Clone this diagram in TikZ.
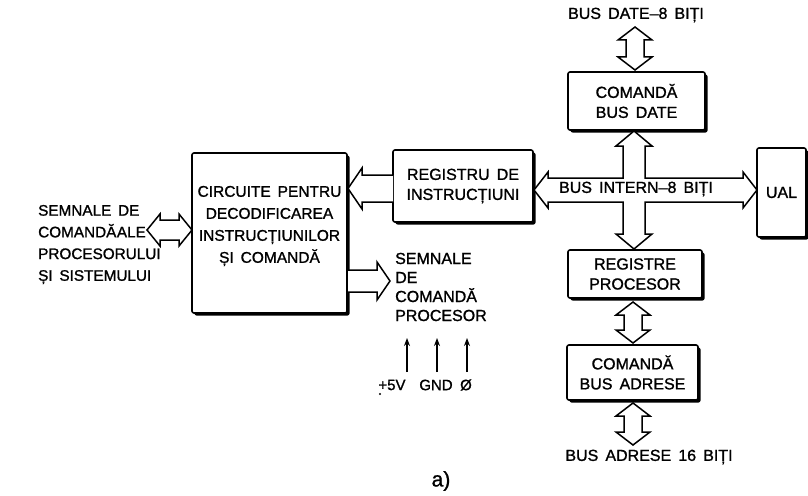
\documentclass[tikz,border=0pt]{standalone}
\usepackage{fontspec}
\setmainfont[WordSpace=1.6,FakeBold=1.2]{Liberation Sans}
\usetikzlibrary{shadows,arrows.meta,calc}
\newcommand\vdbl[3]{\draw[barrow] (#1,#2) -- ({#1+17},{#2+13}) -- ({#1+9},{#2+13}) -- ({#1+9},{#3-13}) -- ({#1+17},{#3-13}) -- (#1,#3) -- ({#1-17},{#3-13}) -- ({#1-9},{#3-13}) -- ({#1-9},{#2+13}) -- ({#1-17},{#2+13}) -- cycle;}
\begin{document}
\begin{tikzpicture}[x=1pt,y=-1pt,
 box/.style={draw,line width=1.6pt,fill=white,rounded corners=2pt,
   drop shadow={shadow xshift=2.5pt,shadow yshift=-2.5pt,opacity=1,fill=black},
   font=\fontsize{16}{20}\selectfont,align=center,inner sep=0pt},
 lbl/.style={font=\fontsize{16}{20}\selectfont,inner sep=0pt},
 barrow/.style={draw,line width=1.5pt,fill=white,line join=miter},
 parrow/.style={line width=1.4pt,-{Stealth[length=8pt,width=6pt]}}]
\useasboundingbox[fill=white] (0,0) rectangle (808,495);

% boxes
\node[box,minimum width=155pt,minimum height=160pt] (cp) at (269.5,233) {};
\node[lbl,align=center,font=\fontsize{15.5}{22}\selectfont] (cpt) at (269.5,226)
  {CIRCUITE PENTRU\\DECODIFICAREA\\INSTRUCȚIUNILOR\\ȘI COMANDĂ};
\node[box,minimum width=140pt,minimum height=72pt] (ri) at (463,186) {REGISTRU DE\\INSTRUCȚIUNI};
\node[box,minimum width=137pt,minimum height=58pt] (cbd) at (636.5,101) {COMANDĂ\\BUS DATE};
\node[box,minimum width=49pt,minimum height=89pt] (ual) at (781.5,192.5) {UAL};
\node[box,minimum width=134pt,minimum height=48pt] (rp) at (635,274) {REGISTRE\\PROCESOR};
\node[box,minimum width=131pt,minimum height=55pt] (cba) at (632.5,372.5) {COMANDĂ\\BUS ADRESE};

% labels
\node[lbl] (bd) at (636,15) {BUS DATE–8 BIȚI};
\node[lbl] (ba) at (649,457) {BUS ADRESE 16 BIȚI};
\node[lbl,align=left,anchor=west,font=\fontsize{15.3}{21.7}\selectfont] (sc) at (38,244.5)
  {SEMNALE DE\\COMANDĂ\hspace{0.5pt}ALE\\PROCESORULUI\\ȘI SISTEMULUI};
\node[lbl,align=left,anchor=west,font=\fontsize{16}{19}\selectfont] (sp) at (395,287)
  {SEMNALE\\DE\\COMANDĂ\\PROCESOR};
\node[lbl,font=\fontsize{15}{18}\selectfont] (p5) at (392,385) {+5V};
\node[lbl,font=\fontsize{15}{18}\selectfont] (gnd) at (436,385) {GND};
\node[lbl,font=\fontsize{15}{18}\selectfont] (phi) at (466,385) {Ø};
\fill (380,394) circle (1.2);
\node[font=\fontsize{21}{22}\selectfont] (cap) at (441,481) {a)};

% internal bus (cross)
\draw[barrow] (634,131) -- (652,146) -- (645,146) -- (645,178) -- (743,178) -- (743,172)
  -- (757,190) -- (743,208) -- (743,202) -- (645,202) -- (645,234) -- (652,234) -- (634,249)
  -- (616,234) -- (623,234) -- (623,202) -- (548,202) -- (548,208) -- (534,190) -- (548,172)
  -- (548,178) -- (623,178) -- (623,146) -- (616,146) -- cycle;
\node[lbl] (bi) at (636,189) {BUS INTERN–8 BIȚI};

% registru -> circuite
\draw[barrow] (393,175) -- (362,175) -- (362,168) -- (348,188.5) -- (362,209) -- (362,202) -- (393,202);
% semnale de comanda <-> circuite
\draw[barrow] (147,230) -- (160,214) -- (160,220) -- (179,220) -- (179,214) -- (192,230)
  -- (179,246) -- (179,240) -- (160,240) -- (160,246) -- cycle;
% circuite -> semnale procesor
\draw[barrow] (348,270) -- (377,270) -- (377,262) -- (390,281) -- (377,300) -- (377,292) -- (348,292);

% vertical double arrows
\vdbl{635}{27}{70}
\vdbl{633}{302}{343}
\vdbl{633}{403}{445}

% supply arrows
\coordinate (a1s) at (407,372); \coordinate (a1e) at (407,338);
\coordinate (a2s) at (437,372); \coordinate (a2e) at (437,338);
\coordinate (a3s) at (467,372); \coordinate (a3e) at (467,338);
\draw[parrow] (a1s) -- (a1e);
\draw[parrow] (a2s) -- (a2e);
\draw[parrow] (a3s) -- (a3e);
\end{tikzpicture}
\end{document}
